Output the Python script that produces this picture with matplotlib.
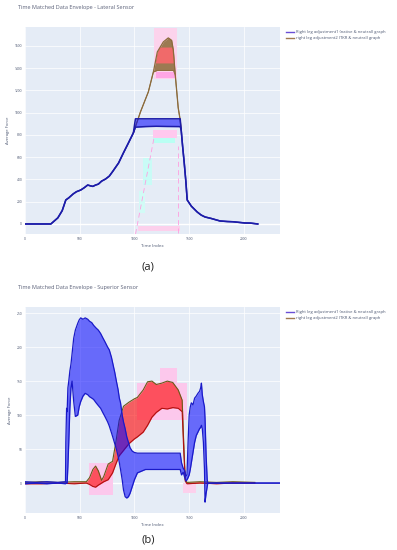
import matplotlib
matplotlib.use("Agg")
import matplotlib.pyplot as plt

plt.rcParams['font.family'] = ['Open Sans', 'DejaVu Sans']

BG = "#e5ecf6"
TXT = "#4a5570"

# ---- lateral sensor (top) ----
lat_native_t = [0, 120, 236, 300, 340, 373, 400, 440, 470, 509, 540, 573, 600, 620, 645, 670,
                700, 736, 770, 800, 855, 900, 945, 990, 1009, 1100, 1200, 1300, 1418,
                1427, 1440, 1455, 1470, 1482, 1520, 1573, 1610, 1645, 1700, 1782, 1850,
                1900, 2009, 2060, 2127]
lat_native_hi = [0, 0, 0, 55, 120, 216, 235, 270, 290, 305, 325, 350, 342, 338, 350, 358,
                 385, 404, 430, 470, 548, 640, 728, 818, 945, 945, 945, 945, 945,
                 845, 700, 548, 380, 216, 160, 108, 80, 63, 50, 27, 22, 20, 9, 8, 0]
lat_native_lo = [0, 0, 0, 55, 120, 216, 235, 270, 290, 305, 325, 350, 342, 338, 350, 358,
                 385, 404, 430, 470, 548, 640, 728, 818, 870, 875, 878, 876, 875,
                 845, 700, 548, 380, 216, 160, 108, 80, 63, 50, 27, 22, 20, 9, 8, 0]

lat_tkr_t = [990, 1055, 1127, 1173, 1209, 1264, 1309, 1340, 1355, 1373, 1400, 1418, 1427]
lat_tkr_hi = [818, 1007, 1187, 1366, 1546, 1636, 1672, 1650, 1564, 1339, 1043, 935, 845]
lat_tkr_lo = [818, 1007, 1187, 1366, 1380, 1380, 1380, 1380, 1380, 1339, 1043, 935, 845]
lat_red_t = [1190, 1209, 1230, 1264, 1309, 1340, 1355, 1362]
lat_red_lo = [1447, 1447, 1447, 1447, 1447, 1447, 1447, 1447]
lat_red_hi = [1447, 1546, 1590, 1590, 1590, 1590, 1564, 1447]

# faint pink / cyan screen artefacts (t0, t1, v0, v1, colour)
lat_patches = [(1180, 1390, 1300, 1760, "#fcd3ec"),
               (1200, 1370, 1310, 1370, "#ffa6e4"),
               (1170, 1390, 775, 845, "#ffc8ee"),
               (1170, 1370, 730, 775, "#b9fff3"),
               (1082, 1164, 350, 590, "#c9fbf6"),
               (1040, 1100, 100, 300, "#d2fbf6"),
               (1030, 1420, -60, -15, "#fcd0ec")]

# ---- superior sensor (bottom) ----
sup_native_t = [0, 100, 200, 300, 370, 373, 380, 385, 392, 400, 410, 420, 430, 445, 460,
                482, 495, 509, 530, 550, 573, 590, 610, 627, 650, 670, 691, 710, 730, 755,
                770, 790, 809, 820, 835, 850, 862, 873, 888, 900, 915, 930, 945, 960, 980,
                1000, 1027, 1100, 1200, 1300, 1418, 1430, 1445, 1460, 1470, 1480, 1490,
                1500, 1510, 1520, 1535, 1550, 1565, 1580, 1595, 1605, 1612, 1620, 1630,
                1640, 1645, 1655, 1665, 1670, 1800, 2000, 2330]
sup_native_hi = [2, 1, 2, 1, 2, 60, 110, 105, 140, 150, 165, 175, 190, 213, 225,
                 235, 240, 243, 241, 243, 241, 238, 236, 232, 228, 225, 220, 214, 208, 200,
                 196, 185, 171, 163, 150, 138, 125, 118, 100, 90, 80, 68, 60, 52, 47,
                 45, 44, 44, 44, 44, 44, 30, 22, 18, 10, 12, 60,
                 100, 112, 118, 115, 125, 128, 132, 135, 140, 147, 130, 120,
                 112, 95, 40, 5, 0, 0, 0, 0]
sup_native_lo = [-1, 0, -1, 0, -1, 0, 0, 0, 25, 60, 110, 140, 150, 120, 98,
                 100, 112, 120, 128, 132, 130, 127, 125, 123, 118, 114, 110, 104, 98, 90,
                 84, 74, 64, 58, 50, 40, 30, 20, 5, -10, -20, -22, -20, -15, -5,
                 5, 15, 20, 20, 20, 20, 12, 16, 8, 3, 5, 8,
                 12, 20, 30, 45, 60, 70, 75, 80, 82, 85, 80, 60,
                 20, -28, -15, -5, 0, 0, 0, 0]

sup_tkr_t = [0, 150, 300, 450, 560, 590, 620, 645, 670, 700, 720, 760, 800, 830, 860,
             900, 950, 1000, 1027, 1080, 1120, 1160, 1200, 1250, 1300, 1350, 1400, 1436,
             1450, 1464, 1480, 1600, 1750, 1900, 2100]
sup_tkr_hi = [1, 2, 1, 2, 2, 8, 20, 25, 18, 4, 10, 28, 32, 60, 92,
              113, 119, 124, 126, 137, 149, 150, 145, 147, 150, 148, 137, 122,
              60, 5, 1, 2, 1, 2, 1]
sup_tkr_lo = [-1, -1, 0, -1, 0, -2, -5, -6, -3, 0, 2, 5, 15, 28, 40,
              48, 58, 65, 68, 75, 85, 97, 104, 110, 109, 111, 110, 105,
              50, 3, -1, 0, -1, 0, 0]

sup_patches = [(582, 800, -18, 29, "#fcc8ec"),
               (1445, 1560, -15, 0, "#fcd0ec"),
               (1027, 1480, 93, 147, "#fcc8ec"),
               (1236, 1390, 147, 169, "#fcc8ec")]

x_ticks = [0, 500, 1000, 1500, 2000]
lat_yticks = [0, 200, 400, 600, 800, 1000, 1200, 1400, 1600]
sup_yticks = [0, 50, 100, 150, 200, 250]

legend_labels = ["Right leg adjustment1 (native & neutral) graph",
                 "right leg adjustment2 (TKR & neutral) graph"]


def style_axes(ax, yticks, ylim):
    ax.set_facecolor(BG)
    for s in ax.spines.values():
        s.set_visible(False)
    ax.set_xlim(0, 2330)
    ax.set_ylim(*ylim)
    ax.set_xticks(x_ticks)
    ax.set_yticks(yticks)
    ax.tick_params(length=0, labelsize=2.4, colors=TXT, pad=2)
    ax.grid(color="white", lw=0.5)
    ax.set_axisbelow(True)
    ax.axhline(0, color="white", lw=1.0, zorder=0.5)
    ax.set_xlabel("Time Index", fontsize=3.2, color=TXT, labelpad=2)
    ax.set_ylabel("Average Force", fontsize=3.0, color=TXT, labelpad=3)


def add_patches(ax, patches):
    for t0, t1, v0, v1, c in patches:
        ax.fill_between([t0, t1], [v0, v0], [v1, v1], color=c, lw=0, zorder=0.8)


fig = plt.figure(figsize=(3.97, 5.5), dpi=100)

# top panel
ax1 = fig.add_axes([25 / 397, 1 - 234 / 550, 255 / 397, 207 / 550])
style_axes(ax1, lat_yticks, (-90, 1770))
add_patches(ax1, lat_patches)
ax1.plot([1010, 1180], [-90, 780], color="#ff9ee0", lw=0.6, ls=(0, (6, 4)), zorder=0.9)
ax1.plot([1395, 1395], [-80, 700], color="#ff9ee0", lw=0.6, ls=(0, (6, 4)), zorder=0.9)
ax1.fill_between(lat_tkr_t, lat_tkr_lo, lat_tkr_hi, color="#9c7a52", lw=0, zorder=2)
ax1.fill_between(lat_red_t, lat_red_lo, lat_red_hi, color="#f06a6a", lw=0, zorder=2.1)
ax1.plot(lat_tkr_t, lat_tkr_hi, color="#8b6a3a", lw=0.9, zorder=2.5)
ax1.plot(lat_tkr_t, lat_tkr_lo, color="#8b6a3a", lw=0.6, zorder=2.5)
ax1.fill_between(lat_native_t, lat_native_lo, lat_native_hi, color="#0000ff",
                 alpha=0.55, lw=0, zorder=3)
ax1.plot(lat_native_t, lat_native_hi, color="#1c1ca8", lw=1.1, zorder=3.5)
ax1.plot(lat_native_t, lat_native_lo, color="#1c1ca8", lw=1.1, zorder=3.5)
h1, = ax1.plot([], [], color="#6a4fd6", lw=1.0)
h2, = ax1.plot([], [], color="#a07a50", lw=1.0)
ax1.legend([h1, h2], legend_labels, loc="upper left", bbox_to_anchor=(1.01, 1.0),
           fontsize=3.0, frameon=False, handlelength=2.0, labelcolor=TXT,
           borderaxespad=0.4, handletextpad=0.5, labelspacing=0.4)
fig.text(18 / 397, 1 - 8 / 550, "Time Matched Data Envelope - Lateral Sensor",
         fontsize=4, color="#5a6078", va="center", ha="left")
fig.text(148 / 397, 1 - 267 / 550, "(a)", fontsize=8, color="#222222",
         va="center", ha="center")

# bottom panel
ax2 = fig.add_axes([25 / 397, 1 - 513 / 550, 255 / 397, 206 / 550])
style_axes(ax2, sup_yticks, (-44, 259))
add_patches(ax2, sup_patches)
ax2.fill_between(sup_tkr_t, sup_tkr_lo, sup_tkr_hi, color="#ff0000", alpha=0.6,
                 lw=0, zorder=2)
ax2.plot(sup_tkr_t, sup_tkr_hi, color="#6b5a18", lw=0.8, zorder=2.5)
ax2.plot(sup_tkr_t, sup_tkr_lo, color="#b01010", lw=0.8, zorder=2.5)
ax2.fill_between(sup_native_t, sup_native_lo, sup_native_hi, color="#0000ff",
                 alpha=0.55, lw=0, zorder=3)
ax2.plot(sup_native_t, sup_native_hi, color="#1a1ac8", lw=0.9, zorder=3.5)
ax2.plot(sup_native_t, sup_native_lo, color="#1a1ac8", lw=0.9, zorder=3.5)
h3, = ax2.plot([], [], color="#6a4fd6", lw=1.0)
h4, = ax2.plot([], [], color="#a07a50", lw=1.0)
ax2.legend([h3, h4], legend_labels, loc="upper left", bbox_to_anchor=(1.01, 1.0),
           fontsize=3.0, frameon=False, handlelength=2.0, labelcolor=TXT,
           borderaxespad=0.4, handletextpad=0.5, labelspacing=0.4)
fig.text(18 / 397, 1 - 287 / 550, "Time Matched Data Envelope - Superior Sensor",
         fontsize=4, color="#5a6078", va="center", ha="left")
fig.text(148 / 397, 1 - 540 / 550, "(b)", fontsize=8, color="#222222",
         va="center", ha="center")

fig.savefig("out.png", dpi=100, facecolor="white")
